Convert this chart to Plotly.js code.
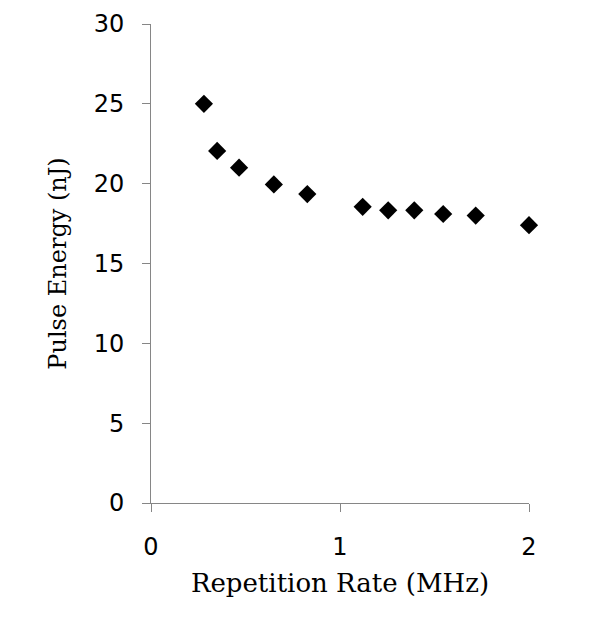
<!DOCTYPE html>
<html>
<head>
<meta charset="utf-8">
<script src="https://cdn.plot.ly/plotly-3.0.1.min.js"></script>
<style>
  html, body { margin: 0; padding: 0; background: #fff; }
  #chart { width: 607px; height: 622px; }
</style>
</head>
<body>
<div id="chart"></div>
<script>
// Repetition rate (MHz) and pulse energy (nJ)
const repRate = [0.28, 0.35, 0.466, 0.65, 0.827, 1.12, 1.255, 1.393, 1.546, 1.718, 2.0];
const pulseEnergy = [25.0, 22.05, 21.0, 19.95, 19.35, 18.55, 18.33, 18.33, 18.1, 18.0, 17.4];

const xTitle = 'Repetition Rate (MHz)';
const yTitle = 'Pulse Energy (nJ)';

const axisColor = '#868686';

const trace = {
  x: repRate,
  y: pulseEnergy,
  type: 'scatter',
  mode: 'markers',
  cliponaxis: false,
  marker: { symbol: 'diamond', size: 14, color: '#000000', line: { width: 0 } },
  hoverinfo: 'x+y'
};

const layout = {
  width: 607,
  height: 622,
  margin: { l: 151, r: 78, t: 24, b: 119 },
  paper_bgcolor: '#ffffff',
  plot_bgcolor: '#ffffff',
  showlegend: false,
  xaxis: {
    range: [0, 2],
    dtick: 1,
    tick0: 0,
    showgrid: false,
    zeroline: false,
    showline: true,
    linecolor: axisColor,
    linewidth: 1,
    ticks: 'outside',
    ticklen: 8,
    tickwidth: 1,
    tickcolor: axisColor,
    ticklabelstandoff: 14,
    tickfont: { family: 'DejaVu Sans, sans-serif', size: 24, color: '#000000' },
    title: { text: xTitle, standoff: 14, font: { family: 'DejaVu Serif, serif', size: 26, color: '#000000' } },
    automargin: false,
    fixedrange: true
  },
  yaxis: {
    range: [0, 30],
    dtick: 5,
    tick0: 0,
    showgrid: false,
    zeroline: false,
    showline: true,
    linecolor: axisColor,
    linewidth: 1,
    ticks: 'outside',
    ticklen: 8,
    tickwidth: 1,
    tickcolor: axisColor,
    ticklabelstandoff: 13,
    tickfont: { family: 'DejaVu Sans, sans-serif', size: 24, color: '#000000' },
    title: { text: yTitle, standoff: 20, font: { family: 'DejaVu Serif, serif', size: 24, color: '#000000' } },
    automargin: false,
    fixedrange: true
  }
};

Plotly.newPlot('chart', [trace], layout, { displayModeBar: false, staticPlot: true });
</script>
</body>
</html>
